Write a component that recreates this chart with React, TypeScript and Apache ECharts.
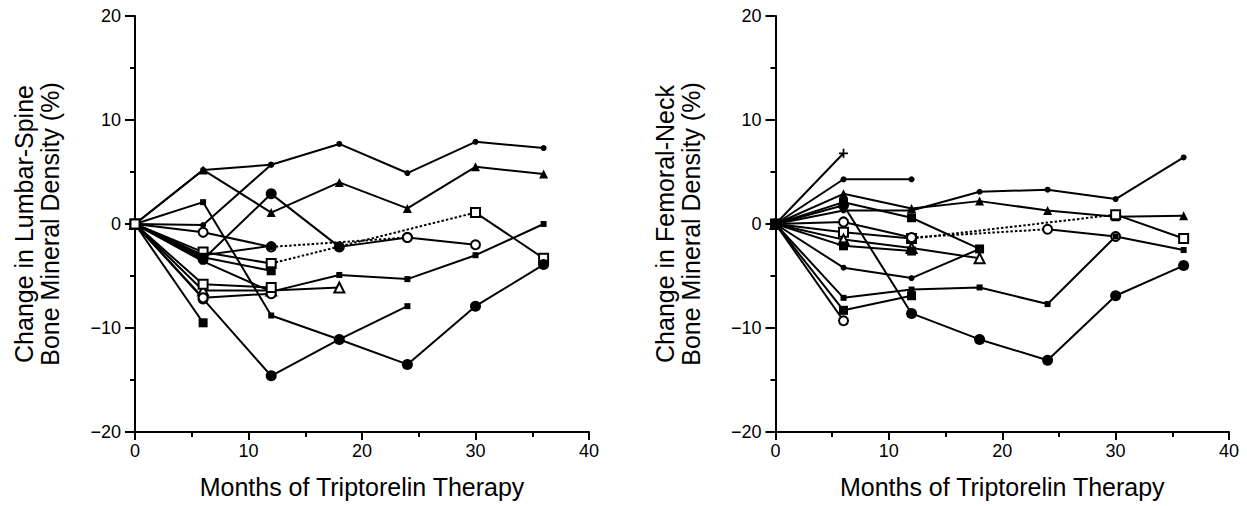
import React, { useEffect, useRef } from "react";
import * as echarts from "echarts";

// Months at which BMD was measured
const MONTHS = [0, 6, 12, 18, 24, 30, 36];

// Axis ticks
const X_TICKS = [0, 10, 20, 30, 40];
const Y_TICKS = [-20, -10, 0, 10, 20];

// Titles
const X_TITLE = "Months of Triptorelin Therapy";
const Y_TITLE_LEFT = "Change in Lumbar-Spine\nBone Mineral Density (%)";
const Y_TITLE_RIGHT = "Change in Femoral-Neck\nBone Mineral Density (%)";

// ---- Lumbar spine (left panel), % change per patient, null = not measured
const ls01 = [0, 5.2, 5.7, 7.7, 4.9, 7.9, 7.3];
const ls02 = [0, 5.2, 1.1, 4.0, 1.5, 5.5, 4.8];
const ls03 = [0, 2.1, -8.8, -11.1, -7.9, null, null];
const ls04 = [0, -0.1, 5.7, null, null, null, null];
const ls05 = [0, -3.4, 2.9, -2.2, -1.3, null, null];
const ls06 = [0, -0.8, -2.2, null, -1.3, -2.0, null];
const ls07 = [0, -2.7, -3.8, null, null, 1.1, -3.3];
const ls08 = [0, -7.2, -14.6, -11.1, -13.5, -7.9, -3.9];
const ls09 = [0, -3.6, -6.5, -4.9, -5.3, -3.0, 0.0];
const ls10 = [0, -6.4, -6.4, -6.1, null, null, null];
const ls11 = [0, -9.5, null, null, null, null, null];
const ls12 = [0, -3.2, -4.5, null, null, null, null];
const ls13 = [0, -7.1, -6.7, null, null, null, null];
const ls14 = [0, -5.8, -6.1, null, null, null, null];
const ls15 = [0, -3.0, -2.1, null, null, null, null];

// ---- Femoral neck (right panel)
const fn01 = [0, 6.8, null, null, null, null, null];
const fn02 = [0, 4.3, 4.3, null, null, null, null];
const fn03 = [0, 2.9, 1.5, 2.2, 1.3, 0.7, 0.8];
const fn04 = [0, 1.3, 1.3, 3.1, 3.3, 2.4, 6.4];
const fn05 = [0, -0.8, -1.4, null, null, 0.9, -1.4];
const fn06 = [0, 0.2, -1.3, null, -0.5, -1.2, null];
const fn07 = [0, -7.1, -6.3, -6.1, -7.7, -1.2, -2.5];
const fn08 = [0, 1.8, -8.6, -11.1, -13.1, -6.9, -4.0];
const fn09 = [0, -8.3, -6.9, null, null, null, null];
const fn10 = [0, -9.3, null, null, null, null, null];
const fn11 = [0, -4.2, -5.2, -2.4, null, null, null];
const fn12 = [0, -1.5, -2.3, -3.3, null, null, null];
const fn13 = [0, -2.1, -2.6, null, null, null, null];
const fn14 = [0, 2.1, 0.6, -2.4, null, null, null];

type Marker =
  | "dot"
  | "midDot"
  | "bigDot"
  | "square"
  | "bigSquare"
  | "openSquare"
  | "openCircle"
  | "triangle"
  | "openTriangle"
  | "plus";

const LEFT: [(number | null)[], Marker][] = [
  [ls01, "dot"],
  [ls02, "triangle"],
  [ls03, "square"],
  [ls04, "dot"],
  [ls05, "bigDot"],
  [ls06, "openCircle"],
  [ls15, "midDot"],
  [ls07, "openSquare"],
  [ls08, "bigDot"],
  [ls09, "square"],
  [ls10, "openTriangle"],
  [ls11, "bigSquare"],
  [ls12, "bigSquare"],
  [ls13, "openCircle"],
  [ls14, "openSquare"],
];

const RIGHT: [(number | null)[], Marker][] = [
  [fn01, "plus"],
  [fn02, "dot"],
  [fn08, "bigDot"],
  [fn03, "triangle"],
  [fn04, "dot"],
  [fn05, "openSquare"],
  [fn06, "openCircle"],
  [fn07, "square"],
  [fn09, "bigSquare"],
  [fn10, "openCircle"],
  [fn11, "dot"],
  [fn12, "openTriangle"],
  [fn13, "bigSquare"],
  [fn14, "bigSquare"],
];

const FONT = "Liberation Sans, Arial, sans-serif";

function markerStyle(m: Marker) {
  const filled = { color: "#000", borderColor: "#000", borderWidth: 0 };
  const open = { color: "#fff", borderColor: "#000", borderWidth: 2 };
  switch (m) {
    case "dot":
      return { symbol: "circle", symbolSize: 6, itemStyle: filled };
    case "midDot":
      return { symbol: "circle", symbolSize: 9, itemStyle: filled };
    case "bigDot":
      return { symbol: "circle", symbolSize: 11, itemStyle: filled };
    case "square":
      return { symbol: "rect", symbolSize: 6, itemStyle: filled };
    case "bigSquare":
      return { symbol: "rect", symbolSize: 9, itemStyle: filled };
    case "openSquare":
      return { symbol: "rect", symbolSize: 9, itemStyle: open };
    case "openCircle":
      return { symbol: "circle", symbolSize: 9, itemStyle: open };
    case "triangle":
      return { symbol: "triangle", symbolSize: 9, itemStyle: filled };
    case "openTriangle":
      return { symbol: "triangle", symbolSize: 10, itemStyle: open };
    case "plus":
      return {
        symbol: "path://M4 0H6V4H10V6H6V10H4V6H0V4H4Z",
        symbolSize: 9,
        itemStyle: filled,
      };
  }
}

function buildSeries(subjects: [(number | null)[], Marker][], gi: number) {
  const out: any[] = [];
  // dashed bridges across missing visits
  subjects.forEach(([vals]) => {
    let last = -1;
    vals.forEach((v, i) => {
      if (v === null) return;
      if (last >= 0 && i - last > 1) {
        out.push({
          type: "line",
          xAxisIndex: gi,
          yAxisIndex: gi,
          data: [
            [MONTHS[last], vals[last]],
            [MONTHS[i], v],
          ],
          symbol: "none",
          lineStyle: { color: "#000", width: 2, type: [2.5, 2] },
          silent: true,
          z: 1,
        });
      }
      last = i;
    });
  });
  subjects.forEach(([vals, m]) => {
    const st = markerStyle(m);
    out.push({
      type: "line",
      xAxisIndex: gi,
      yAxisIndex: gi,
      data: vals.map((v, i) => [MONTHS[i], v]),
      connectNulls: false,
      showSymbol: true,
      showAllSymbol: true,
      symbol: st.symbol,
      symbolSize: st.symbolSize,
      itemStyle: st.itemStyle,
      lineStyle: { color: "#000", width: 2 },
      z: 2,
    });
  });
  return out;
}

function xAxis(gi: number) {
  return {
    type: "value",
    gridIndex: gi,
    min: X_TICKS[0],
    max: X_TICKS[X_TICKS.length - 1],
    interval: X_TICKS[1] - X_TICKS[0],
    axisLine: { onZero: false, lineStyle: { color: "#000", width: 2 } },
    axisTick: { show: true, inside: false, length: 8, lineStyle: { color: "#000", width: 2 } },
    minorTick: { show: true, splitNumber: 2, length: 5, lineStyle: { color: "#000", width: 2 } },
    splitLine: { show: false },
    axisLabel: { color: "#000", fontSize: 18, fontFamily: FONT, margin: 10 },
    name: X_TITLE,
    nameLocation: "middle",
    nameGap: 42,
    nameTextStyle: { color: "#000", fontSize: 25, fontFamily: FONT },
  };
}

function yAxis(gi: number, title: string) {
  return {
    type: "value",
    gridIndex: gi,
    min: Y_TICKS[0],
    max: Y_TICKS[Y_TICKS.length - 1],
    interval: Y_TICKS[1] - Y_TICKS[0],
    axisLine: { onZero: false, lineStyle: { color: "#000", width: 2 } },
    axisTick: { show: true, inside: false, length: 10, lineStyle: { color: "#000", width: 2 } },
    minorTick: { show: true, splitNumber: 2, length: 5, lineStyle: { color: "#000", width: 2 } },
    splitLine: { show: false },
    axisLabel: {
      color: "#000",
      fontSize: 18,
      fontFamily: FONT,
      margin: 14,
      formatter: (v: number) => (v < 0 ? "\u2212" + Math.abs(v) : String(v)),
    },
    name: title,
    nameLocation: "middle",
    nameGap: 72,
    nameTextStyle: { color: "#000", fontSize: 25, fontFamily: FONT, lineHeight: 26 },
  };
}

export default function App() {
  const ref = useRef<HTMLDivElement>(null);
  useEffect(() => {
    if (!ref.current) return;
    const chart = echarts.init(ref.current, undefined, { renderer: "svg" });
    chart.setOption({
      animation: false,
      backgroundColor: "#fff",
      grid: [
        { left: 135, right: 658, top: 16, bottom: 74 },
        { left: 775.5, right: 18, top: 16, bottom: 74 },
      ],
      xAxis: [xAxis(0), xAxis(1)],
      yAxis: [yAxis(0, Y_TITLE_LEFT), yAxis(1, Y_TITLE_RIGHT)],
      series: [...buildSeries(LEFT, 0), ...buildSeries(RIGHT, 1)],
    });
    return () => chart.dispose();
  }, []);
  return (
    <div
      ref={ref}
      style={{ position: "fixed", left: 0, top: 0, width: 1247, height: 506, background: "#fff" }}
    />
  );
}
